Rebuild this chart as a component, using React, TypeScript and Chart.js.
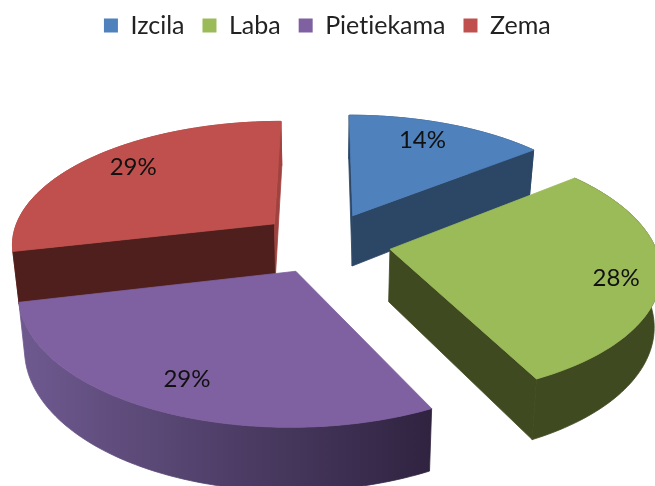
import React, { useEffect, useRef } from "react";
import { Chart, registerables } from "chart.js";

Chart.register(...registerables);

const categories = ["Izcila", "Laba", "Pietiekama", "Zema"];
const values = [14.3, 28.4, 28.65, 28.65];
const topColors = ["#4F81BD", "#9BBB59", "#7F60A0", "#C0504D"];
const startWallColors = ["#2C4666", "#3F4A21", "#332540", "#4F1F1D"];
const endWallColors = ["#2C4666", "#3F4A21", "#332540", "#A0423F"];
const outerLeft = ["#2C4666", "#3F4A21", "#6F5A90", "#A0423F"];
const outerRight = ["#2C4666", "#3F4A21", "#2F2340", "#A0423F"];
const drawOrder = [0, 3, 1, 2];

const FONT = 'Lato, "Open Sans", sans-serif';

const pie3d = {
  id: "pie3d",
  beforeDraw(chart: any) {
    // keeps "ti" from collapsing into a ligature in the legend and labels
    chart.ctx.textRendering = "optimizeSpeed";
  },
  beforeDatasetDraw() {
    return false;
  },
  afterDatasetsDraw(chart: any) {
    const ctx: CanvasRenderingContext2D = chart.ctx;
    const arcs = chart.getDatasetMeta(0).data;
    const cx = 325, cy = 242.5, A = 264, B = 123, k = 0.15, H = 52, m = 0.98, ex = 0.25;
    const labelNudge = [[-8, 0], [11, 7], [0, 1], [6, -2]];
    const total = values.reduce((a, b) => a + b, 0);

    const proj = (u: number, v: number, low: boolean) => {
      const s = 1 / (1 - k * v);
      let X = u * A * s;
      let Y = v * B * s;
      if (low) {
        X *= m;
        Y += H * s;
      }
      return [cx + X, cy + Y];
    };

    drawOrder.forEach((i) => {
      const a0 = arcs[i].startAngle + Math.PI / 2;
      const a1 = arcs[i].endAngle + Math.PI / 2;
      const mid = (a0 + a1) / 2;
      const eu = ex * Math.sin(mid);
      const ev = -ex * Math.cos(mid);
      const rim: [number, number][] = [];
      const N = 80;
      for (let j = 0; j <= N; j++) {
        const t = a0 + ((a1 - a0) * j) / N;
        rim.push([eu + Math.sin(t), ev - Math.cos(t)]);
      }
      const poly = (pts: number[][], fill: string | CanvasGradient) => {
        ctx.beginPath();
        pts.forEach((p, n) => (n ? ctx.lineTo(p[0], p[1]) : ctx.moveTo(p[0], p[1])));
        ctx.closePath();
        ctx.fillStyle = fill;
        ctx.fill();
        ctx.strokeStyle = fill;
        ctx.lineWidth = 0.8;
        ctx.lineJoin = "round";
        ctx.stroke();
      };
      const apexT = proj(eu, ev, false);
      const apexB = proj(eu, ev, true);
      const first = rim[0];
      const last = rim[N];
      const midRim = proj(eu + 0.5 * Math.sin(mid), ev - 0.5 * Math.cos(mid), false);
      const faces = (edge: number[]) => {
        // a radial wall shows only when the slice's top lies above that edge on screen
        const dx = edge[0] - apexT[0];
        const dy = edge[1] - apexT[1];
        const side = dx * (midRim[1] - apexT[1]) - dy * (midRim[0] - apexT[0]);
        return dx >= 0 ? side < 0 : side > 0;
      };
      const top = rim.map((p) => proj(p[0], p[1], false));
      const bot = rim.map((p) => proj(p[0], p[1], true));
      const xs = top.map((p) => p[0]);
      const g = ctx.createLinearGradient(Math.min(...xs), 0, Math.max(...xs), 0);
      g.addColorStop(0, outerLeft[i]);
      g.addColorStop(1, outerRight[i]);
      // outer curved wall
      poly([...top, ...[...bot].reverse()], g);
      // radial walls
      const fT = proj(first[0], first[1], false);
      const lT = proj(last[0], last[1], false);
      if (faces(fT)) poly([apexT, fT, proj(first[0], first[1], true), apexB], startWallColors[i]);
      if (faces(lT)) poly([apexT, lT, proj(last[0], last[1], true), apexB], endWallColors[i]);
      // top face
      poly([apexT, ...top], topColors[i]);
    });

    ctx.fillStyle = "#111";
    ctx.font = `24px ${FONT}`;
    ctx.textAlign = "center";
    ctx.textBaseline = "middle";
    values.forEach((val, i) => {
      const a0 = arcs[i].startAngle + Math.PI / 2;
      const a1 = arcs[i].endAngle + Math.PI / 2;
      const mid = (a0 + a1) / 2;
      const f = ex + 0.8;
      const p = proj(f * Math.sin(mid), -f * Math.cos(mid), false);
      ctx.fillText(`${Math.round((val / total) * 100)}%`, p[0] + labelNudge[i][0], p[1] + labelNudge[i][1]);
    });
  },
};

export default function App() {
  const ref = useRef<HTMLCanvasElement>(null);
  useEffect(() => {
    const chart = new Chart(ref.current!, {
      type: "pie",
      data: {
        labels: categories,
        datasets: [{ data: values, backgroundColor: topColors, borderWidth: 0 }],
      },
      plugins: [pie3d],
      options: {
        animation: false,
        responsive: false,
        layout: { padding: { top: -5 } },
        plugins: {
          tooltip: { enabled: false },
          legend: {
            position: "top",
            labels: {
              boxWidth: 14,
              boxHeight: 14,
              padding: 18,
              color: "#222",
              font: { family: FONT, size: 25 },
            },
          },
        },
      },
    } as any);
    return () => chart.destroy();
  }, []);
  return (
    <div style={{ position: "fixed", left: 0, top: 0, width: 655, height: 486, background: "#fff" }}>
      <canvas ref={ref} width={655} height={486} style={{ display: "block" }} />
    </div>
  );
}
